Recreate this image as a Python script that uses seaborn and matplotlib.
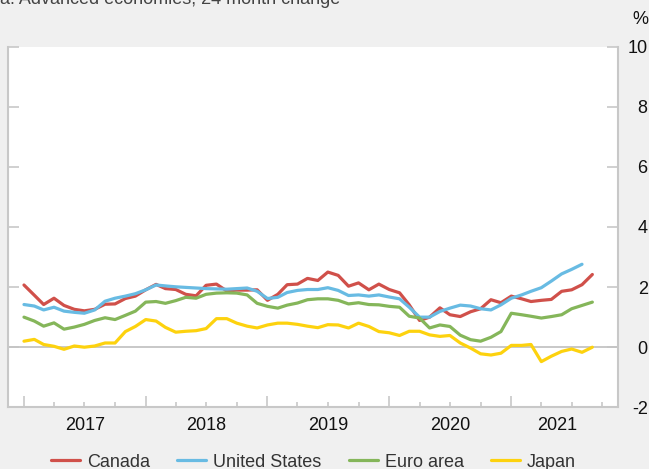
import numpy as np
import pandas as pd
import matplotlib
matplotlib.use("Agg")
import matplotlib.pyplot as plt
import matplotlib.dates as mdates
import seaborn as sns

# ---- data (24-month change, %) ----
series_names = ["Canada", "United States", "Euro area", "Japan"]
start_month = "2017-01-01"

canada = [2.07, 1.73, 1.42, 1.63, 1.39, 1.26, 1.21, 1.26, 1.43, 1.44, 1.62, 1.70,
          1.91, 2.09, 1.95, 1.92, 1.76, 1.71, 2.06, 2.10, 1.87, 1.90, 1.90, 1.91,
          1.56, 1.76, 2.08, 2.10, 2.29, 2.22, 2.50, 2.39, 2.03, 2.14, 1.91, 2.10,
          1.92, 1.81, 1.41, 0.89, 1.00, 1.31, 1.08, 1.02, 1.18, 1.28, 1.58, 1.48,
          1.70, 1.61, 1.52, 1.56, 1.59, 1.86, 1.91, 2.08, 2.42]
united_states = [1.42, 1.37, 1.24, 1.33, 1.20, 1.16, 1.13, 1.24, 1.53, 1.63, 1.70, 1.78,
                 1.91, 2.07, 2.04, 2.01, 1.99, 1.97, 1.95, 1.94, 1.93, 1.95, 1.97, 1.86,
                 1.62, 1.66, 1.82, 1.89, 1.92, 1.92, 1.98, 1.89, 1.72, 1.74, 1.70, 1.74,
                 1.67, 1.61, 1.33, 1.00, 1.00, 1.19, 1.30, 1.40, 1.37, 1.28, 1.24, 1.41,
                 1.63, 1.74, 1.86, 1.98, 2.20, 2.44, 2.59, 2.76]
euro_area = [1.00, 0.87, 0.70, 0.81, 0.60, 0.67, 0.76, 0.89, 0.98, 0.92, 1.06, 1.20,
             1.50, 1.52, 1.46, 1.55, 1.66, 1.63, 1.76, 1.80, 1.81, 1.80, 1.74, 1.46,
             1.36, 1.30, 1.40, 1.47, 1.58, 1.61, 1.61, 1.56, 1.44, 1.48, 1.42, 1.41,
             1.36, 1.33, 1.03, 0.97, 0.64, 0.74, 0.69, 0.40, 0.25, 0.20, 0.33, 0.52,
             1.13, 1.08, 1.03, 0.97, 1.02, 1.08, 1.28, 1.39, 1.50]
japan = [0.20, 0.26, 0.09, 0.03, -0.07, 0.04, 0.00, 0.04, 0.14, 0.14, 0.52, 0.69,
         0.92, 0.87, 0.66, 0.50, 0.53, 0.55, 0.62, 0.95, 0.95, 0.80, 0.70, 0.64,
         0.74, 0.80, 0.80, 0.76, 0.70, 0.65, 0.75, 0.74, 0.64, 0.80, 0.69, 0.52,
         0.48, 0.39, 0.53, 0.53, 0.41, 0.36, 0.39, 0.14, -0.03, -0.22, -0.26, -0.20,
         0.06, 0.06, 0.09, -0.48, -0.30, -0.14, -0.06, -0.17, 0.00]

year_labels = ["2017", "2018", "2019", "2020", "2021"]
y_ticks = [-2, 0, 2, 4, 6, 8, 10]

colors = ["#d0504a", "#68bbe3", "#85b65a", "#fdd20e"]

# ---- long-format table ----
frames = []
for name, vals in zip(series_names, [canada, united_states, euro_area, japan]):
    frames.append(pd.DataFrame({
        "date": pd.date_range(start_month, periods=len(vals), freq="MS"),
        "value": vals,
        "series": name,
    }))
df = pd.concat(frames, ignore_index=True)

# ---- figure ----
sns.set_theme(style="white")
plt.rcParams["font.family"] = ["Liberation Sans", "DejaVu Sans"]

W, H = 649, 469
fig = plt.figure(figsize=(W / 100, H / 100), dpi=100, facecolor="#f0f0f0")
ax_l, ax_r, ax_t, ax_b = 8.3, 617.7, 46.7, 407.3
ax = fig.add_axes([ax_l / W, 1 - ax_b / H, (ax_r - ax_l) / W, (ax_b - ax_t) / H])
ax.set_facecolor("white")

ax.axhline(0, color="#c4c4c4", lw=1.3, zorder=1)

sns.lineplot(data=df, x="date", y="value", hue="series", hue_order=series_names,
             palette=colors, linewidth=2.3, ax=ax, legend=False, zorder=3)

ax.set_xlim(pd.Timestamp("2016-11-15"), pd.Timestamp("2021-11-16"))
ax.set_ylim(-2, 10)
ax.set_xlabel("")
ax.set_ylabel("")

spine_c = "#c8c8c8"
for s in ["left", "bottom", "right"]:
    ax.spines[s].set_visible(True)
    ax.spines[s].set_color(spine_c)
    ax.spines[s].set_linewidth(1.5)
ax.spines["top"].set_visible(False)

# y axis: ticks inward on both sides, labels on right, right-aligned
ax.set_yticks(y_ticks)
ax.set_yticklabels([str(v) for v in y_ticks])
ax.tick_params(axis="y", which="major", left=True, right=True, labelleft=False,
               labelright=True, direction="in", length=8, width=1.2,
               color=spine_c, pad=21.6, labelsize=13, labelcolor="#111111")
for lab in ax.get_yticklabels():
    lab.set_ha("right")

# x axis: long ticks at years, short at quarters, labels at year centres
year_starts = [pd.Timestamp(f"{y}-01-01") for y in range(2017, 2022)]
quarters = [pd.Timestamp(f"{y}-{m:02d}-01") for y in range(2017, 2022) for m in (4, 7, 10)]
ax.set_xticks(year_starts)
ax.set_xticklabels([""] * len(year_starts))
ax.set_xticks(quarters, minor=True)
ax.tick_params(axis="x", which="major", bottom=True, top=False, direction="in",
               length=7.6, width=1.2, color=spine_c)
ax.tick_params(axis="x", which="minor", bottom=True, top=False, direction="in",
               length=3.6, width=1.2, color=spine_c)

label_pos = []
for i, y in enumerate(range(2017, 2022)):
    a = pd.Timestamp(f"{y}-01-01")
    b = pd.Timestamp(f"{y + 1}-01-01") if y < 2021 else pd.Timestamp("2021-10-01")
    label_pos.append(a + (b - a) / 2)
for lbl, pos in zip(year_labels, label_pos):
    ax.text(mdates.date2num(pos), -(425 - ax_b) / (ax_b - ax_t), lbl,
            transform=ax.get_xaxis_transform(), ha="center", va="center",
            fontsize=13, color="#111111")

# % unit label and clipped subtitle
fig.text(648 / W, 1 - 19 / H, "%", ha="right", va="center", fontsize=13, color="#111111")
fig.text(0.0, 1 - 3.5 / H, "a. Advanced economies, 24 month change", ha="left",
         va="baseline", fontsize=13, color="#444444")

# legend
from matplotlib.lines import Line2D
handles = [Line2D([0], [0], color=c, lw=2.3) for c in colors]
fig.legend(handles, series_names, loc="center", ncol=4, frameon=False,
           bbox_to_anchor=(313.5 / W, 1 - 462 / H), fontsize=13,
           handlelength=1.6, handletextpad=0.4, columnspacing=1.5,
           labelcolor="#333333")

fig.savefig("out.png", dpi=100, facecolor=fig.get_facecolor())
